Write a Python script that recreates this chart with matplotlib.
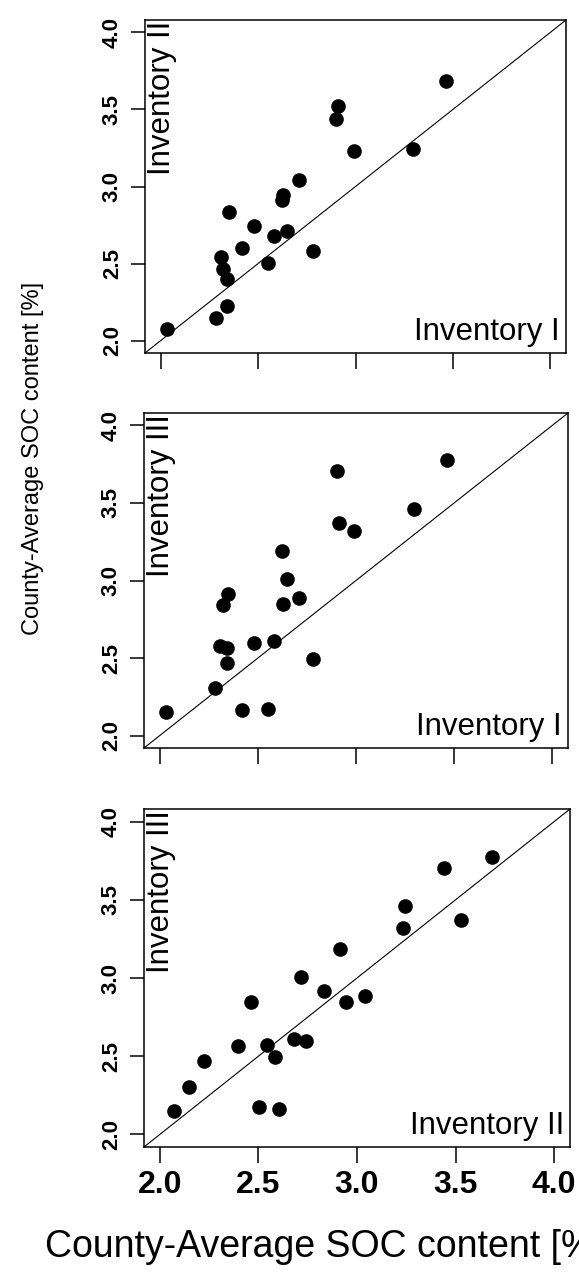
import matplotlib.pyplot as plt

plt.rcParams['font.family'] = ['Liberation Sans', 'DejaVu Sans']

# county-average SOC content [%], same county order in every list
inv1 = [2.031, 2.284, 2.342, 2.550, 2.419, 2.342, 2.309, 2.780, 2.322, 2.580, 2.480,
        2.651, 2.350, 2.628, 2.622, 2.712, 2.992, 3.293, 2.912, 2.902, 3.466]
inv2 = [2.073, 2.146, 2.223, 2.503, 2.602, 2.397, 2.542, 2.582, 2.463, 2.680, 2.742,
        2.714, 2.835, 2.946, 2.914, 3.042, 3.233, 3.243, 3.525, 3.440, 3.683]
inv3 = [2.152, 2.306, 2.468, 2.174, 2.163, 2.563, 2.575, 2.495, 2.844, 2.610, 2.596,
        3.008, 2.914, 2.847, 3.188, 2.888, 3.318, 3.462, 3.372, 3.703, 3.775]

ticks = [2.0, 2.5, 3.0, 3.5, 4.0]
tick_labels = ['2.0', '2.5', '3.0', '3.5', '4.0']

panels = [
    (inv1, inv2, 'Inventory I', 'Inventory II'),
    (inv1, inv3, 'Inventory I', 'Inventory III'),
    (inv2, inv3, 'Inventory II', 'Inventory III'),
]

W, H = 579, 1275
# box edges in pixels: left, right, top, bottom
boxes = [(145, 566, 20, 353), (144, 568, 413, 748), (144, 570, 809, 1147)]

fig = plt.figure(figsize=(W / 100, H / 100), dpi=100)

for i, ((xs, ys, xname, yname), (l, r, t, b)) in enumerate(zip(panels, boxes)):
    ax = fig.add_axes([l / W, 1 - b / H, (r - l) / W, (b - t) / H])
    ax.plot(xs, ys, 'o', color='black', markersize=9.5)
    ax.axline((0, 0), slope=1, color='black', lw=0.8)
    ax.set_xlim(1.92, 4.08)
    ax.set_ylim(1.92, 4.08)
    ax.set_xticks(ticks)
    ax.set_yticks(ticks)
    ax.set_yticklabels(tick_labels, rotation=90, va='center',
                       fontsize=16, fontweight='bold')
    if i == 2:
        ax.set_xticklabels(tick_labels, fontsize=23, fontweight='bold')
    else:
        ax.set_xticklabels([])
    ax.tick_params(axis='x', length=11.5, width=1.1, pad=5)
    ax.tick_params(axis='y', length=10, width=1.1, pad=6)
    for s in ax.spines.values():
        s.set_linewidth(1.1)

    ax.annotate(yname, xy=(0, 1), xycoords='axes fraction',
                xytext=(2, -1), textcoords='offset pixels',
                rotation=90, ha='left', va='top', fontsize=22.5)
    ax.annotate(xname, xy=(1, 0), xycoords='axes fraction',
                xytext=(-6, 6), textcoords='offset pixels',
                ha='right', va='bottom', fontsize=22.5)

fig.text(33 / W, 1 - 458 / H, 'County-Average SOC content [%]',
         rotation=90, ha='center', va='center', fontsize=17)
fig.text(45 / W, 1 - 1257 / H, 'County-Average SOC content [%]',
         ha='left', va='baseline', fontsize=27)

fig.savefig('out.png', dpi=100)
